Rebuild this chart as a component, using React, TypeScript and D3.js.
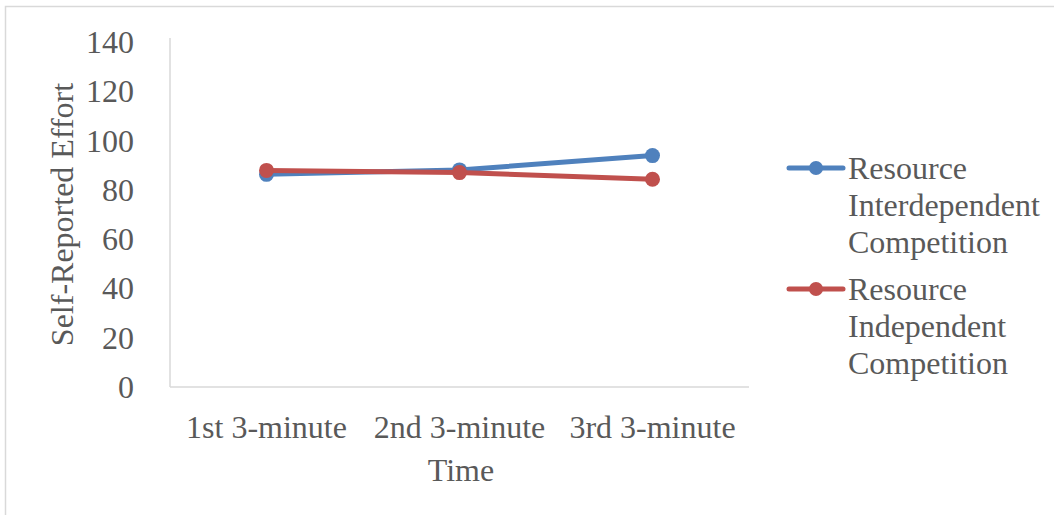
import React from "react";
import * as d3 from "d3";

const categories = ["1st 3-minute", "2nd 3-minute", "3rd 3-minute"];
const interdependent = [86.3, 88.1, 93.9];
const independent = [87.9, 87.0, 84.3];
const yTicks = [0, 20, 40, 60, 80, 100, 120, 140];
const seriesNames = [
  ["Resource", "Interdependent", "Competition"],
  ["Resource", "Independent", "Competition"],
];
const seriesColors = ["#4F81BD", "#C0504D"];

const W = 1054;
const H = 515;
const FONT = "'Liberation Serif', 'Times New Roman', serif";
const FS = 32;
const TEXT = "#595959";
const GRID = "#D9D9D9";

export default function App() {
  const x = d3.scalePoint<string>().domain(categories).range([170, 749]).padding(0.5);
  const y = d3.scaleLinear().domain([0, 140]).range([387, 42]);
  const line = d3
    .line<number>()
    .x((_, i) => x(categories[i]) as number)
    .y((d) => y(d));

  const series = [interdependent, independent];

  return (
    <div style={{ position: "absolute", left: 0, top: 0 }}>
      <svg width={W} height={H} style={{ display: "block", background: "#fff" }}>
        {/* chart frame */}
        <rect x={5.5} y={6.5} width={W + 20} height={H + 20} fill="none" stroke={GRID} strokeWidth={1.5} />

        {/* axes */}
        <line x1={170} x2={170} y1={y(140) - 4} y2={y(0)} stroke={GRID} strokeWidth={1.5} />
        <line x1={170} x2={749} y1={y(0)} y2={y(0)} stroke={GRID} strokeWidth={1.5} />

        {/* y tick labels */}
        {yTicks.map((t) => (
          <text key={t} x={134} y={y(t) + 11} textAnchor="end" fontFamily={FONT} fontSize={FS} fill={TEXT}>
            {t}
          </text>
        ))}

        {/* category labels */}
        {categories.map((c) => (
          <text key={c} x={x(c)} y={438} textAnchor="middle" fontFamily={FONT} fontSize={FS} fill={TEXT}>
            {c}
          </text>
        ))}

        {/* axis titles */}
        <text x={461} y={481} textAnchor="middle" fontFamily={FONT} fontSize={FS} fill={TEXT}>
          Time
        </text>
        <text
          transform={`translate(73, ${(y(0) + y(140)) / 2}) rotate(-90)`}
          textAnchor="middle"
          fontFamily={FONT}
          fontSize={FS}
          fill={TEXT}
        >
          Self-Reported Effort
        </text>

        {/* series lines and markers */}
        {series.map((s, si) => (
          <g key={si}>
            <path d={line(s) || ""} fill="none" stroke={seriesColors[si]} strokeWidth={5} strokeLinejoin="round" />
            {s.map((v, i) => (
              <circle key={i} cx={x(categories[i])} cy={y(v)} r={7.5} fill={seriesColors[si]} />
            ))}
          </g>
        ))}

        {/* legend */}
        {seriesNames.map((lines, si) => {
          const cy = 168 + si * 121;
          return (
            <g key={si}>
              <line x1={789} x2={843} y1={cy} y2={cy} stroke={seriesColors[si]} strokeWidth={5} strokeLinecap="round" />
              <circle cx={816} cy={cy} r={7} fill={seriesColors[si]} />
              {lines.map((t, li) => (
                <text key={li} x={848} y={cy + 11 + li * 37} fontFamily={FONT} fontSize={FS} fill={TEXT}>
                  {t}
                </text>
              ))}
            </g>
          );
        })}
      </svg>
    </div>
  );
}
